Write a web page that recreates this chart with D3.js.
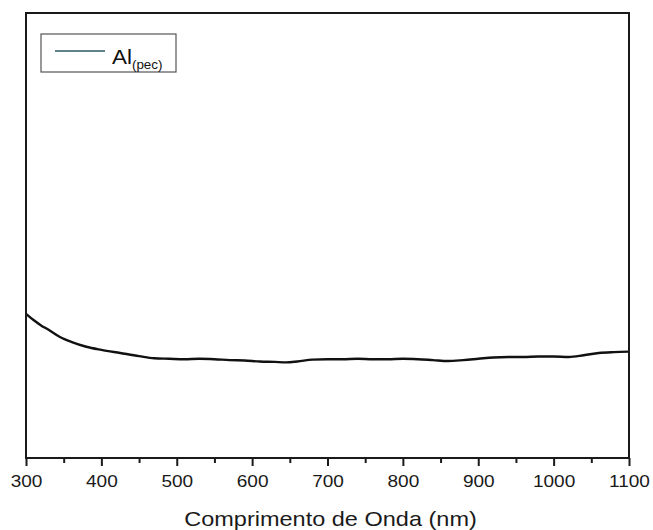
<!DOCTYPE html>
<html>
<head>
<meta charset="utf-8">
<script src="https://cdn.jsdelivr.net/npm/d3@7/dist/d3.min.js"></script>
<style>
  html, body { margin: 0; padding: 0; background: #fff; }
  svg { display: block; font-family: "Liberation Sans", Arial, sans-serif; }
</style>
</head>
<body>
<svg id="chart" width="653" height="530"></svg>
<script>
// Spectrum of the Al(pec) sample: wavelength (nm) and signal (arbitrary units)
const wavelengths = [300, 310, 320, 330, 345, 360, 380, 400, 425, 450, 470, 490, 510, 530, 550, 570,
  590, 610, 630, 645, 660, 680, 700, 720, 740, 760, 780, 800, 820, 840, 860, 880,
  900, 920, 940, 960, 980, 1000, 1020, 1040, 1060, 1080, 1100];
const signal = [0.324, 0.310, 0.298, 0.288, 0.272, 0.261, 0.250, 0.243, 0.236, 0.229, 0.224, 0.223,
  0.222, 0.223, 0.222, 0.220, 0.219, 0.217, 0.216, 0.215, 0.217, 0.221, 0.222, 0.222, 0.223,
  0.222, 0.222, 0.223, 0.222, 0.220, 0.218, 0.220, 0.223, 0.226, 0.227, 0.227, 0.228, 0.228,
  0.227, 0.231, 0.236, 0.238, 0.239];
const xTicks = [300, 400, 500, 600, 700, 800, 900, 1000, 1100];
const xMinorTicks = [350, 450, 550, 650, 750, 850, 950, 1050];
const seriesName = "Al";
const seriesSub = "(pec)";
const xTitle = "Comprimento de Onda (nm)";

const svg = d3.select("#chart");
const plot = { left: 26, right: 629, top: 13, bottom: 458 };
const stretch = 1.12; // slightly wide lettering

const x = d3.scaleLinear().domain([300, 1100]).range([plot.left, plot.right]);
const y = d3.scaleLinear().domain([0, 1]).range([plot.bottom, plot.top]);

const data = wavelengths.map((w, i) => ({ w, v: signal[i] }));

// spectrum line
svg.append("path")
  .datum(data)
  .attr("fill", "none")
  .attr("stroke", "#111")
  .attr("stroke-width", 2.4)
  .attr("stroke-linejoin", "round")
  .attr("d", d3.line().curve(d3.curveMonotoneX).x(d => x(d.w)).y(d => y(d.v)));

// frame
svg.append("rect")
  .attr("x", plot.left).attr("y", plot.top)
  .attr("width", plot.right - plot.left).attr("height", plot.bottom - plot.top)
  .attr("fill", "none").attr("stroke", "#1a1a1a").attr("stroke-width", 2);

// bottom axis: major ticks with labels
const xAxis = d3.axisBottom(x).tickValues(xTicks).tickFormat(d3.format("d"))
  .tickSizeInner(8).tickSizeOuter(0).tickPadding(9);
const gx = svg.append("g").attr("transform", `translate(0,${plot.bottom})`).call(xAxis);
gx.select(".domain").remove();
gx.selectAll(".tick line").attr("stroke", "#1a1a1a").attr("stroke-width", 2);
gx.selectAll(".tick text")
  .attr("font-size", 17)
  .attr("fill", "#1a1a1a")
  .attr("transform", `scale(${stretch},1)`);

// minor ticks
const xMinor = d3.axisBottom(x).tickValues(xMinorTicks).tickFormat("").tickSizeInner(5).tickSizeOuter(0);
const gm = svg.append("g").attr("transform", `translate(0,${plot.bottom})`).call(xMinor);
gm.select(".domain").remove();
gm.selectAll(".tick line").attr("stroke", "#1a1a1a").attr("stroke-width", 2);

// axis title
svg.append("text")
  .attr("transform", `translate(${(plot.left + plot.right) / 2 + 3},526) scale(${stretch},1)`)
  .attr("text-anchor", "middle")
  .attr("font-size", 21)
  .attr("fill", "#1a1a1a")
  .text(xTitle);

// legend
const lg = svg.append("g");
lg.append("rect")
  .attr("x", 41).attr("y", 34).attr("width", 135).attr("height", 38)
  .attr("fill", "#fff").attr("stroke", "#555").attr("stroke-width", 1.2);
lg.append("line")
  .attr("x1", 55).attr("x2", 105).attr("y1", 51).attr("y2", 51)
  .attr("stroke", "#2a5868").attr("stroke-width", 1.3);
const lt = lg.append("text")
  .attr("transform", `translate(112,64) scale(${stretch},1)`)
  .attr("fill", "#111").attr("font-size", 20);
lt.append("tspan").text(seriesName);
lt.append("tspan").attr("font-size", 12).attr("dy", 5).text(seriesSub);
</script>
</body>
</html>
